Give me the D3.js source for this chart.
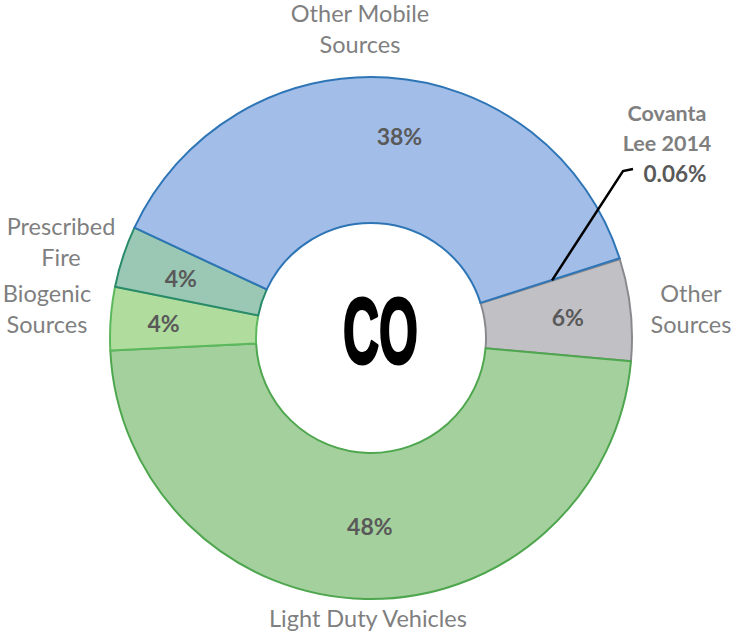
<!DOCTYPE html>
<html>
<head>
<meta charset="utf-8">
<script src="https://cdn.jsdelivr.net/npm/d3@7"></script>
<style>
  html, body { margin: 0; padding: 0; background: #ffffff; }
  svg { display: block; }
</style>
</head>
<body>
<svg id="chart" width="733" height="643"></svg>
<script>
// ---- data ----
const categories = ["Other Mobile Sources", "Covanta Lee 2014", "Other Sources", "Light Duty Vehicles", "Biogenic Sources", "Prescribed Fire"];
const values = [38.1, 0.06, 6.3, 47.8, 3.9, 3.8];
const labelLines = [["Other Mobile", "Sources"], ["Covanta", "Lee 2014"], ["Other", "Sources"], ["Light Duty Vehicles"], ["Biogenic", "Sources"], ["Prescribed", "Fire"]];
const centerText = "CO";

// ---- styles / layout ----
const fillTop    = ["#a2bde7", "#9ab5df", "#c0c0c5", "#a4d09d", "#b0dc9e", "#9ac8b4"];
const fillBottom = ["#7ba2da", "#8aa9d6", "#a9a9af", "#86bd7f", "#9cd087", "#80b49f"];
const strokes    = ["#2e75b6", "#2e75b6", "#8a8a8e", "#4ea64e", "#5cb85c", "#2a8a6c"];
const pctNudge   = [[16, -4], [0, 0], [0, 0], [3, -10], [-10, 0], [-2, 2]];

const svg = d3.select("#chart");
const cx = 371, cy = 338, R = 261, r = 115;

const deg = Math.PI / 180;
const pie = d3.pie().sort(null).value(d => d.value)
  .startAngle(-65 * deg).endAngle(295 * deg);
const data = categories.map((c, i) => ({ name: c, value: values[i], i }));
const arcs = pie(data);

const arc = d3.arc().innerRadius(r).outerRadius(R);
const labelArc = d3.arc().innerRadius(198).outerRadius(198);
const leaderArc = d3.arc().innerRadius(190).outerRadius(190);

// gradients
const defs = svg.append("defs");
arcs.forEach((a, i) => {
  const g = defs.append("linearGradient")
    .attr("id", "grad" + i)
    .attr("gradientUnits", "userSpaceOnUse")
    .attr("x1", 0).attr("x2", 0)
    .attr("y1", i === 0 ? cy - R : cy - 40)
    .attr("y2", i === 0 ? cy - 20 : cy + R);
  g.append("stop").attr("offset", "0%").attr("stop-color", fillTop[i]);
  g.append("stop").attr("offset", "100%").attr("stop-color", fillBottom[i]);
});

const gChart = svg.append("g").attr("transform", `translate(${cx},${cy})`);

// draw order so boundary colours match reference
const order = [1, 2, 3, 4, 5, 0];
gChart.selectAll("path.slice")
  .data(order.map(k => arcs[k]))
  .enter().append("path")
  .attr("class", "slice")
  .attr("d", arc)
  .attr("fill", d => `url(#grad${d.data.i})`)
  .attr("stroke", d => strokes[d.data.i])
  .attr("stroke-width", 2)
  .attr("stroke-linejoin", "round");

// inside percentage labels
gChart.selectAll("text.pct")
  .data(arcs.filter(d => d.data.value >= 1))
  .enter().append("text")
  .attr("class", "pct")
  .attr("transform", d => {
    const c = labelArc.centroid(d), n = pctNudge[d.data.i];
    return `translate(${c[0] + n[0]},${c[1] + n[1]})`;
  })
  .attr("text-anchor", "middle")
  .attr("dominant-baseline", "central")
  .attr("font-family", "Lato, 'Open Sans', sans-serif")
  .attr("font-weight", "bold")
  .attr("font-size", 23)
  .attr("fill", "#595959")
  .text(d => Math.round(d.data.value) + "%");

// outer category labels
const outerPos = [
  { x: 360, y: 22, anchor: "middle" },   // Other Mobile Sources
  null,                                  // Covanta (handled separately)
  { x: 691, y: 302, anchor: "middle" },  // Other Sources
  { x: 368, y: 627, anchor: "middle" },  // Light Duty Vehicles
  { x: 47, y: 302, anchor: "middle" },   // Biogenic Sources
  { x: 61, y: 235, anchor: "middle" }    // Prescribed Fire
];
const lineGap = 31;
labelLines.forEach((lines, i) => {
  const p = outerPos[i];
  if (!p) return;
  const t = svg.append("text")
    .attr("text-anchor", p.anchor)
    .attr("font-family", "Lato, 'Open Sans', sans-serif")
    .attr("font-size", 23.5)
    .attr("fill", "#7f7f7f");
  lines.forEach((ln, j) => {
    t.append("tspan").attr("x", p.x).attr("y", p.y + j * lineGap).text(ln);
  });
});

// Covanta callout
const cov = arcs[1];
const cp = leaderArc.centroid(cov);
const leader = [[cx + cp[0], cy + cp[1]], [623, 171], [633, 169]];
svg.append("path")
  .attr("d", d3.line()(leader))
  .attr("fill", "none")
  .attr("stroke", "#000")
  .attr("stroke-width", 2.5);

const covText = svg.append("text")
  .attr("text-anchor", "middle")
  .attr("font-family", "Lato, 'Open Sans', sans-serif")
  .attr("font-weight", "bold")
  .attr("font-size", 21.5)
  .attr("fill", "#7f7f7f");
labelLines[1].forEach((ln, j) => {
  covText.append("tspan").attr("x", 667).attr("y", 121 + j * 30).text(ln);
});
svg.append("text")
  .attr("x", 675).attr("y", 182)
  .attr("text-anchor", "middle")
  .attr("font-family", "Lato, 'Open Sans', sans-serif")
  .attr("font-weight", "bold")
  .attr("font-size", 22.5)
  .attr("fill", "#595959")
  .text(cov.data.value.toFixed(2) + "%");

// centre text
svg.append("text")
  .attr("x", 343).attr("y", 363)
  .attr("textLength", 75)
  .attr("lengthAdjust", "spacingAndGlyphs")
  .attr("font-family", "'Liberation Sans Narrow', 'Liberation Sans', sans-serif")
  .attr("font-weight", "bold")
  .attr("font-size", 92)
  .attr("fill", "#000")
  .attr("stroke", "#000")
  .attr("stroke-width", 3)
  .attr("stroke-linejoin", "round")
  .text(centerText);
</script>
</body>
</html>
